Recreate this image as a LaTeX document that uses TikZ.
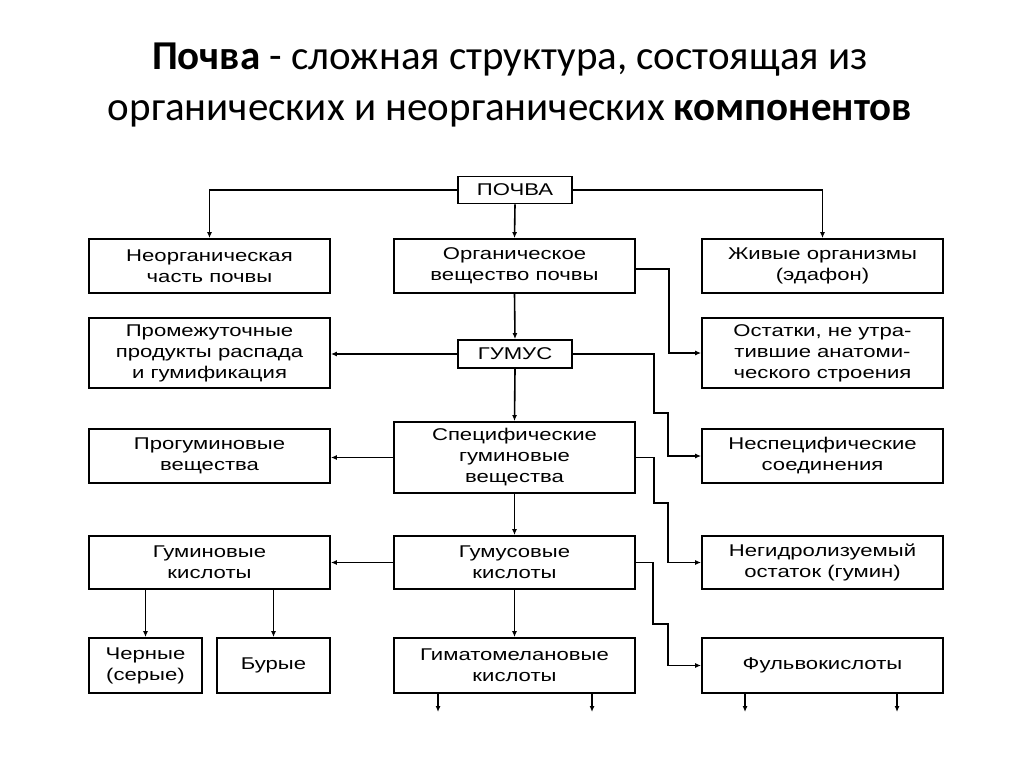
\documentclass[tikz,border=0pt]{standalone}
\usepackage{fontspec}
\setmainfont{Carlito}
\newfontfamily\diag{Liberation Sans}[FakeStretch=1.3]
\usetikzlibrary{arrows.meta}
\begin{document}
\begin{tikzpicture}[x=1pt,y=-1pt,
  box/.style={draw,line width=1.8pt,inner sep=0pt,align=center,
    font=\diag\fontsize{17}{21}\selectfont,minimum width=241pt,minimum height=54pt},
  small/.style={box,minimum width=114pt,minimum height=27pt},
  conn/.style={line width=1.6pt,-{Latex[length=6pt,width=5pt]}},
  title/.style={font=\fontsize{41}{48}\selectfont,inner sep=0pt,anchor=base}]
\useasboundingbox (0,0) rectangle (1024,767);
\fill[white] (0,0) rectangle (1024,767);
% title
\node[title] (t1) at (510,70) {\textbf{Почва} - сложная структура, состоящая из};
\node[title] (t2) at (510,121) {органических и неорганических \textbf{компонентов}};
% boxes
\node[small] (pochva) at (515,190) {ПОЧВА};
\node[box] (neorg) at (209.5,266) {Неорганическая\\часть почвы};
\node[box] (org) at (514.5,266) {Органическое\\вещество почвы};
\node[box] (live) at (822.5,266) {Живые организмы\\(эдафон)};
\node[box,minimum height=70pt] (prom) at (209.5,353) {Промежуточные\\продукты распада\\и гумификация};
\node[small,minimum height=28pt] (gumus) at (515,354) {ГУМУС};
\node[box,minimum height=70pt] (ost) at (822.5,353) {Остатки, не утра-\\тившие анатоми-\\ческого строения};
\node[box] (prog) at (209.5,456) {Прогуминовые\\вещества};
\node[box,minimum height=71pt] (spec) at (514.5,457.5) {Специфические\\гуминовые\\вещества};
\node[box] (nespec) at (822.5,456) {Неспецифические\\соединения};
\node[box,minimum height=53pt] (gumk) at (209.5,562.5) {Гуминовые\\кислоты};
\node[box,minimum height=53pt] (gumac) at (514.5,562.5) {Гумусовые\\кислоты};
\node[box,minimum height=53pt] (negid) at (822.5,562.5) {Негидролизуемый\\остаток (гумин)};
\node[box,minimum width=113pt,minimum height=55pt] (cher) at (145.5,665.5) {Черные\\(серые)};
\node[box,minimum width=113pt,minimum height=55pt] (bur) at (273.5,665.5) {Бурые};
\node[box,minimum height=55pt] (gimat) at (514.5,665.5) {Гиматомелановые\\кислоты};
\node[box,minimum height=55pt] (fulv) at (822.5,665.5) {Фульвокислоты};
% free ends
\coordinate (e1) at (438,712);
\coordinate (e2) at (592,712);
\coordinate (e3) at (745,712);
\coordinate (e4) at (897,712);
% connectors
\draw[conn] (pochva.west) -| (neorg.north);
\draw[conn] (pochva.south) -- (org.north);
\draw[conn] (pochva.east) -| (live.north);
\draw[conn] (org.south) -- (gumus.north);
\draw[conn] (gumus.west) -- (gumus.west -| prom.east);
\draw[conn] ([yshift=-3pt]org.east) -- ++(33,0) |- (ost.west);
\draw[conn] (gumus.east) -- (654,354) -- (654,413) -- (668,413) |- (nespec.west);
\draw[conn] (gumus.south) -- (spec.north);
\draw[conn] (spec.west) -- (spec.west -| prog.east);
\draw[conn] (spec.east) -- (654,457.5) -- (654,503) -- (668,503) |- (negid.west);
\draw[conn] (spec.south) -- (gumac.north);
\draw[conn] (gumac.west) -- (gumk.east);
\draw[conn] (gumac.east) -- (653,562.5) -- (653,624) -- (668,624) |- (fulv.west);
\draw[conn] (gumac.south) -- (gimat.north);
\draw[conn] (gumk.south -| cher.north) -- (cher.north);
\draw[conn] (gumk.south -| bur.north) -- (bur.north);
\draw[conn] (gimat.south -| e1) -- (e1);
\draw[conn] (gimat.south -| e2) -- (e2);
\draw[conn] (fulv.south -| e3) -- (e3);
\draw[conn] (fulv.south -| e4) -- (e4);
\end{tikzpicture}
\end{document}
